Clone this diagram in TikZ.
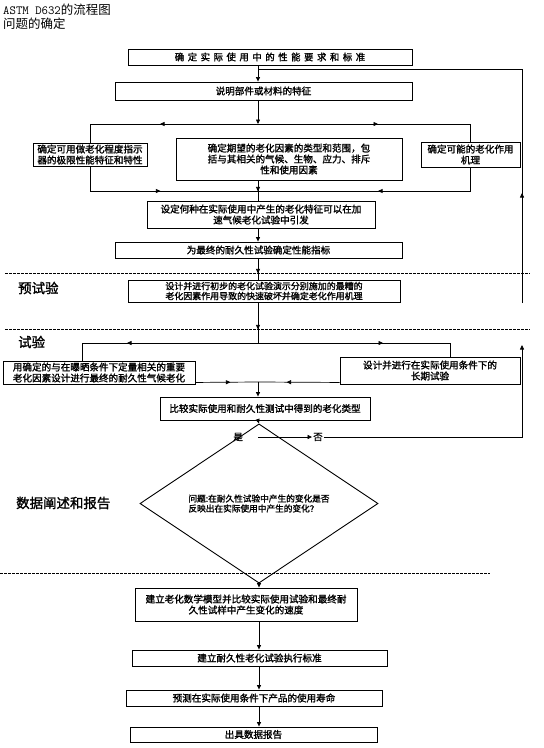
\documentclass[tikz,border=0pt]{standalone}
\usepackage{fontspec}
\newfontfamily\cjk{Noto Sans CJK SC}
\newfontfamily\cjkb{Noto Sans CJK SC}[FakeBold=1.5]
\newfontfamily\cjkw{Noto Sans CJK SC}[FakeBold=1.5, LetterSpace=38]
\usetikzlibrary{arrows.meta, positioning, shapes.geometric, decorations.markings}

\begin{document}
\begin{tikzpicture}[x=1bp, y=-1bp, >={Triangle[length=4.5bp, width=4bp]},
  box/.style={draw, line width=0.9bp, inner sep=1bp, align=center,
    font=\cjkb\fontsize{9.6}{11}\selectfont},
  sect/.style={anchor=west, inner sep=0pt, font=\cjkb\fontsize{13.5}{15}\selectfont},
  lbl/.style={inner sep=1pt, font=\cjkb\fontsize{9.5}{10}\selectfont},
  flow/.style={line width=0.7bp},
  midarr/.style={postaction={decorate}, decoration={markings,
    mark=at position #1 with {\arrow{>}}}},
  sep/.style={line width=0.6bp, dash pattern=on 2.5bp off 1.5bp}]
  \useasboundingbox (0,0) rectangle (544,748);
  \coordinate (sp) at (258,0);

  \node[anchor=north west, align=left, inner sep=0pt,
    font=\cjk\fontsize{12.5}{14}\selectfont] (title) at (3,4)
    {{\ttfamily ASTM D632}的流程图\\问题的确定};

  % problem definition
  \node[box, font=\cjkw\fontsize{9.4}{10}\selectfont, minimum width=284bp, minimum height=16bp] (def) at (270,57) {确定实际使用中的性能要求和标准};
  \node[box, minimum width=297bp, minimum height=18bp] (mat) at (263.5,91) {说明部件或材料的特征};
  \node[box, minimum width=114bp, minimum height=23bp] (ind) at (90,154.5) {确定可用做老化程度指示\\器的极限性能特征和特性};
  \node[box, minimum width=226bp, minimum height=42bp] (fac) at (289,159) {确定期望的老化因素的类型和范围，包\\括与其相关的气候、生物、应力、排斥\\性和使用因素};
  \node[box, minimum width=99bp, minimum height=25bp] (mech) at (470.5,154.5) {确定可能的老化作用\\机理};
  \node[box, minimum width=228bp, minimum height=27bp] (acc) at (261,214.5) {设定何种在实际使用中产生的老化特征可以在加\\速气候老化试验中引发};
  \node[box, minimum width=287bp, minimum height=16bp] (crit) at (258.5,250) {为最终的耐久性试验确定性能指标};

  % pre-test and test
  \node[sect] (pre) at (18,288) {预试验};
  \node[box, font=\cjkb\fontsize{9}{10}\selectfont, minimum width=272bp, minimum height=22bp] (prel) at (264,291) {设计并进行初步的老化试验演示分别施加的最糟的\\老化因素作用导致的快速破坏并确定老化作用机理};
  \node[sect] (tst) at (18,342) {试验};
  \node[box, align=left, minimum width=192bp, minimum height=23bp] (wea) at (99,372.5) {用确定的与在曝晒条件下定量相关的重要\\老化因素设计进行最终的耐久性气候老化};
  \node[box, minimum width=180bp, minimum height=27bp] (lng) at (430,370.5) {设计并进行在实际使用条件下的\\长期试验};
  \node[box, minimum width=210bp, minimum height=23bp] (cmp) at (265,408.5) {比较实际使用和耐久性测试中得到的老化类型};
  \coordinate (yn) at (258,437);
  \node[lbl, left=14bp of yn] (yes) {是};
  \node[lbl] (no) at (318,437) {否};

  % data and report
  \node[sect] (dat) at (16,503) {数据阐述和报告};
  \node[draw, shape=diamond, line width=0.9bp, inner sep=0pt, align=left,
    minimum width=238bp, minimum height=85bp,
    font=\cjkb\fontsize{8.7}{10}\selectfont] (q) at (259,503.5)
    {问题:在耐久性试验中产生的变化是否\\反映出在实际使用中产生的变化？};
  \node[box, minimum width=222bp, minimum height=33bp] (mdl) at (246,604.5) {建立老化数学模型并比较实际使用试验和最终耐\\久性试样中产生变化的速度};
  \node[box, minimum width=255bp, minimum height=16bp] (std) at (259.5,658) {建立耐久性老化试验执行标准};
  \node[box, minimum width=256bp, minimum height=16bp] (prd) at (254,698) {预测在实际使用条件下产品的使用寿命};
  \node[box, minimum width=247bp, minimum height=15bp] (rpt) at (253.5,734.5) {出具数据报告};

  % stage separators
  \draw[sep] (5,273) -- (530,273);
  \draw[sep] (5,329) -- (530,329);
  \draw[sep] (0,573) -- (490,573);

  % connectors
  \coordinate (hub1) at (258,124);
  \coordinate (hub2) at (258,191);
  \coordinate (hub3) at (258,343);
  \coordinate (hub4) at (258,382);
  \coordinate (lp1) at (522,303);
  \coordinate (lp2) at (522,69);
  \coordinate (lp3) at (522,345);
  \draw[flow, ->] (def.south -| sp) -- (mat.north -| sp);
  \draw[flow, ->] (mat.south -| sp) -- (hub1);
  \draw[flow, midarr=98bp] (hub1) -| (ind.north);
  \draw[flow, midarr=120bp] (hub1) -| (mech.north);
  \draw[flow, midarr=95bp] (ind.south) |- (hub2);
  \draw[flow, midarr=116bp] (mech.south) |- (hub2);
  \draw[flow, midarr=11bp] (fac.south -| sp) -- (acc.north -| sp);
  \draw[flow, ->] (acc.south -| sp) -- (crit.north -| sp);
  \draw[flow, midarr=15bp] (crit.south -| sp) -- (prel.north -| sp);
  \draw[flow, midarr=27bp] (prel.south -| sp) -- (hub3);
  \draw[flow, midarr=131bp] (hub3) -| ([xshift=-17bp]wea.north);
  \draw[flow, midarr=125bp] (hub3) -| ([xshift=20bp]lng.north);
  \draw[flow, midarr=35bp] ([yshift=2bp]wea.south east) -- (hub4);
  \draw[flow, midarr=53bp] ([yshift=2bp]lng.south west) -- (hub4);
  \draw[flow, ->] (hub4) -- (cmp.north -| sp);
  \draw[flow, ->] (cmp.south -| sp) -- (q.north);
  \draw[flow, ->] (yn) -- (no.west);
  \draw[flow, ->] (no.east) -| (lp3);
  \draw[flow, midarr=110bp] (lp1) -- (lp2) -- (lp2 -| sp);
  \draw[flow, ->] (q.south) -- (q.south |- mdl.north);
  \draw[flow, ->] (mdl.south -| q.south) -- (std.north -| q.south);
  \draw[flow, ->] (std.south -| q.south) -- (prd.north -| q.south);
  \draw[flow, ->] (prd.south -| q.south) -- (rpt.north -| q.south);
\end{tikzpicture}
\end{document}
